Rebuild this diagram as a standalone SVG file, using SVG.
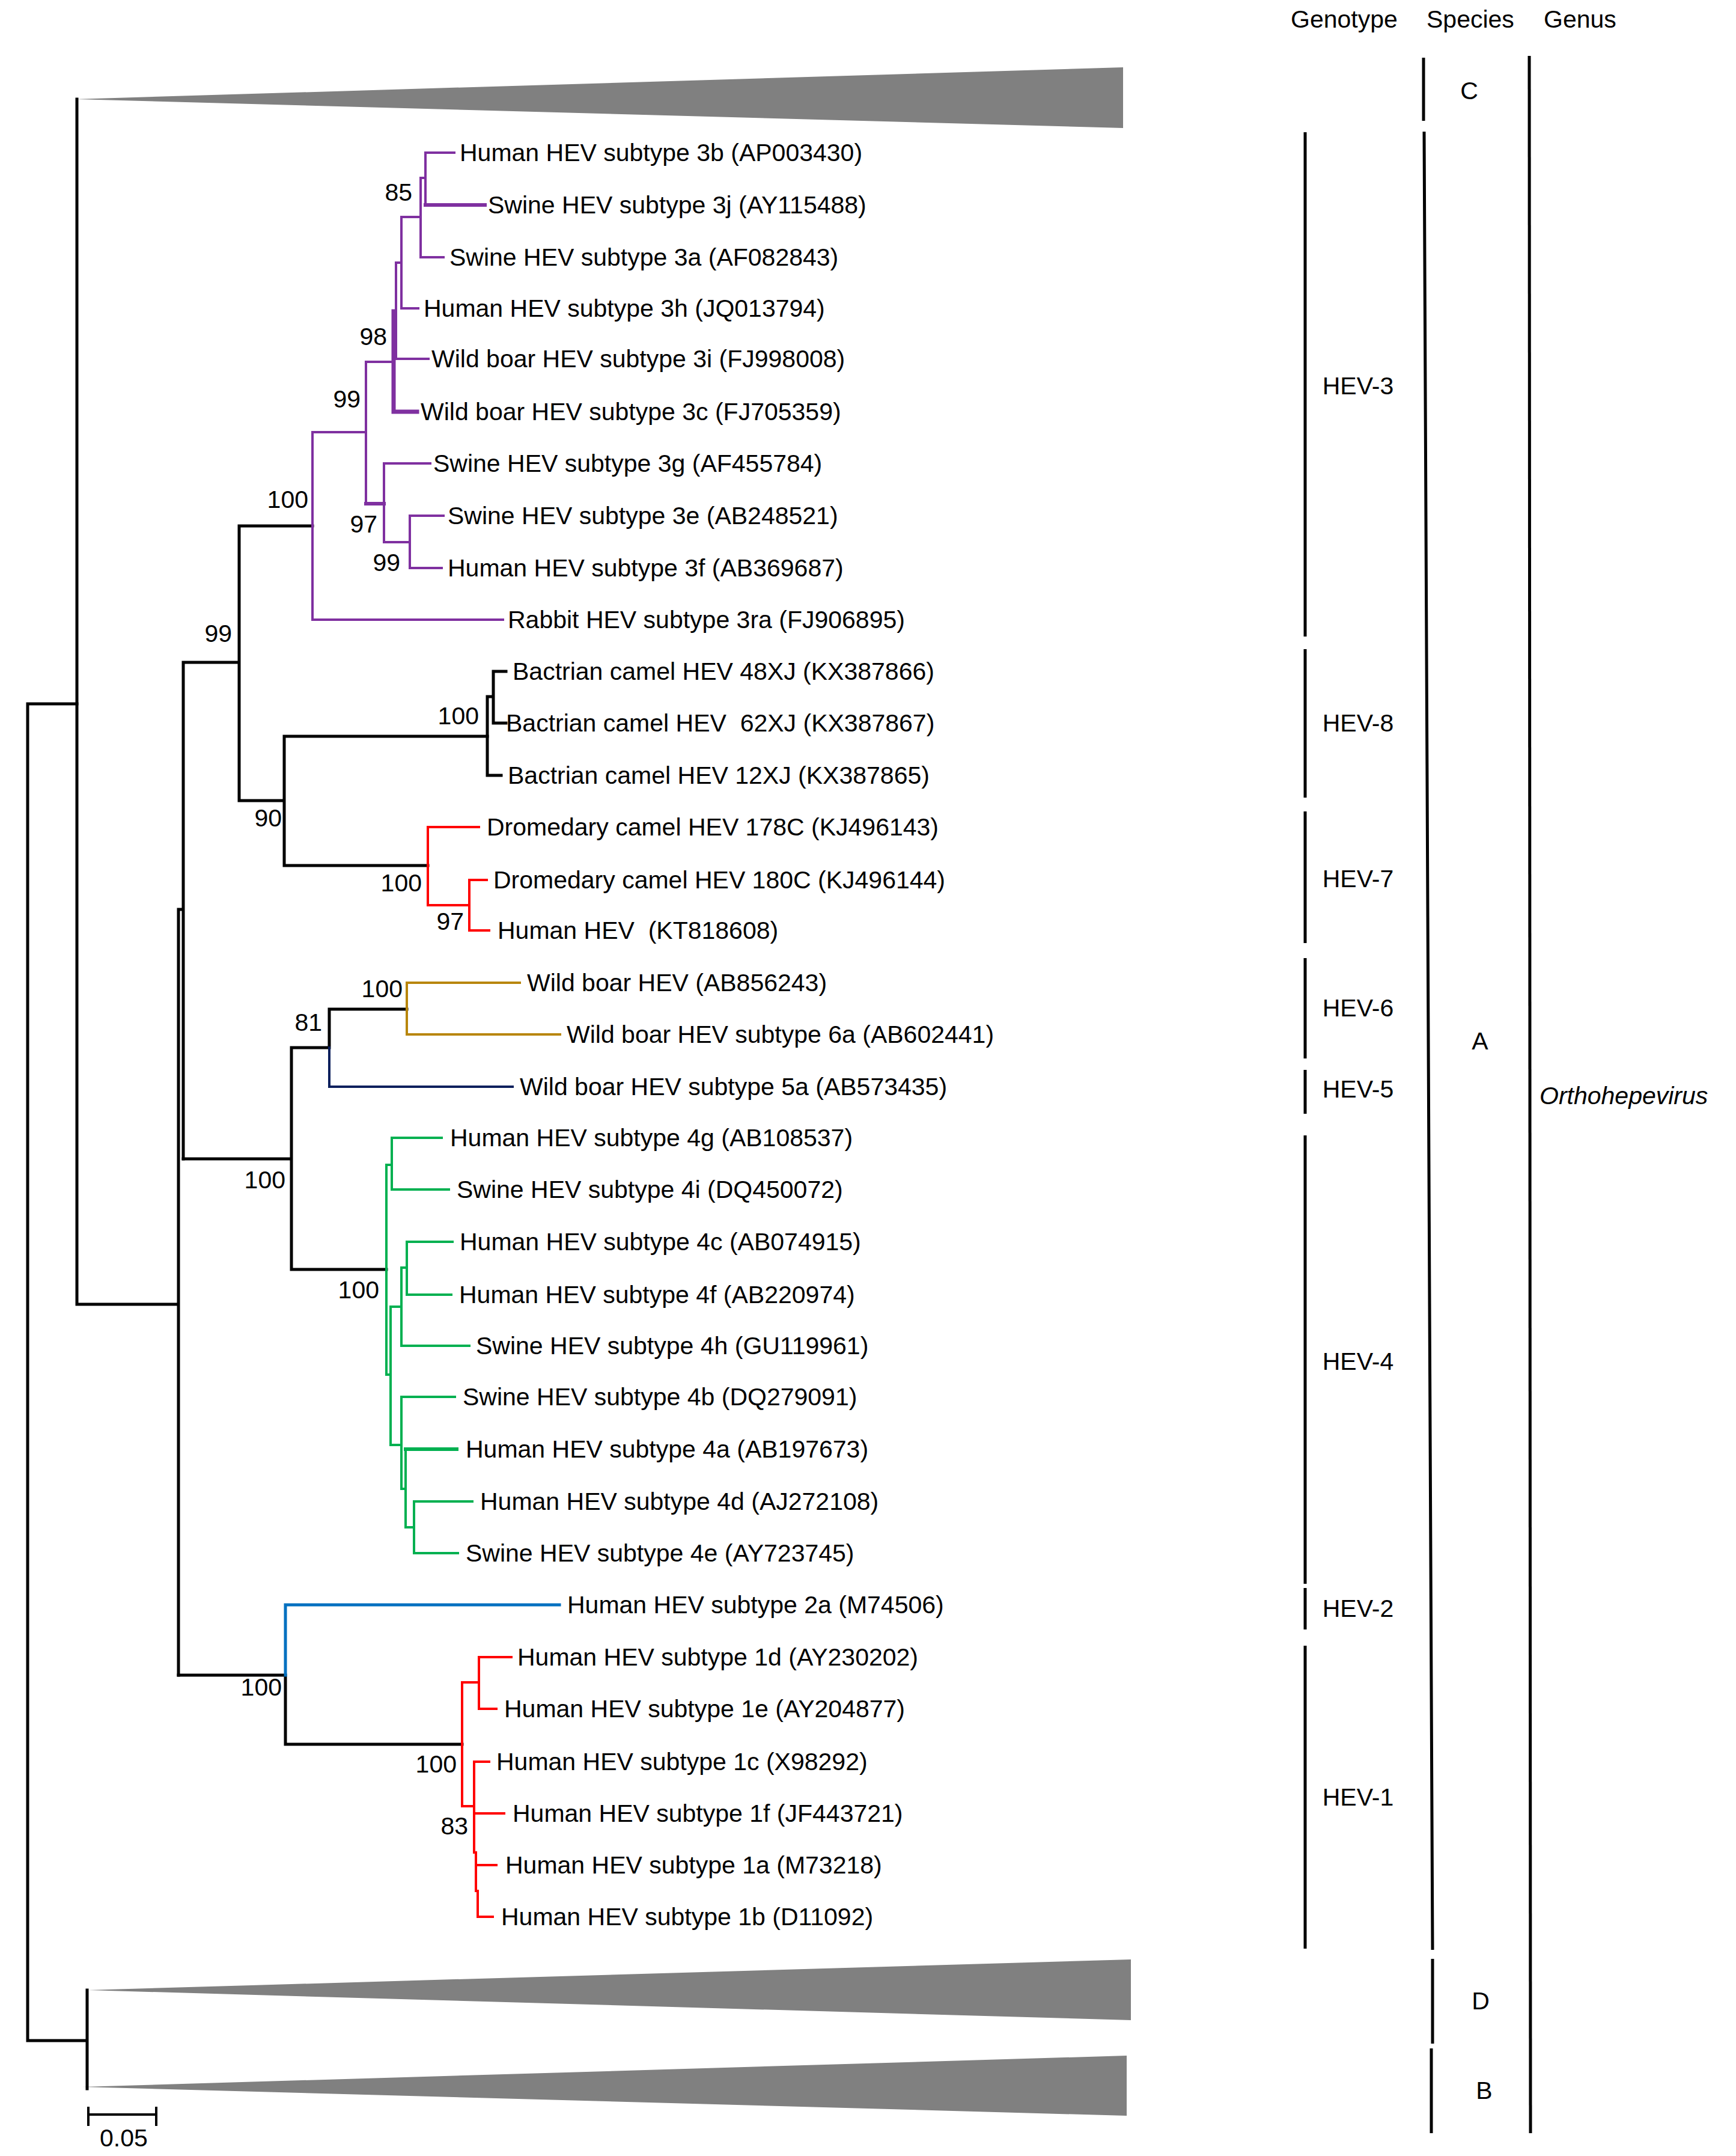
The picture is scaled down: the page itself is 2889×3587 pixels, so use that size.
<svg xmlns="http://www.w3.org/2000/svg" width="2889" height="3587" viewBox="0 0 2889 3587">
<style>
text{font-family:"Liberation Sans",Arial,sans-serif;font-size:41px;fill:#000;white-space:pre}
.bs{text-anchor:end}
.mid{text-anchor:middle}
.k{stroke:#000;stroke-width:5;fill:none;stroke-linecap:square}
.p{stroke:#7f30a0;stroke-width:4;fill:none;stroke-linecap:square}
.r{stroke:#ff0000;stroke-width:4;fill:none;stroke-linecap:square}
.g{stroke:#00b050;stroke-width:4;fill:none;stroke-linecap:square}
.o{stroke:#b8860b;stroke-width:4;fill:none;stroke-linecap:square}
.n{stroke:#0a1f5c;stroke-width:4;fill:none;stroke-linecap:square}
.b{stroke:#0070c0;stroke-width:5;fill:none;stroke-linecap:square}
.bar{stroke:#000;stroke-width:5;fill:none}
.tri{fill:#808080}
</style>
<rect width="2889" height="3587" fill="#fff"/>

<g id="collapsed">
<polygon class="tri" points="126,165 1869,112 1869,213"/>
<polygon class="tri" points="147,3311 1882,3260 1882,3361"/>
<polygon class="tri" points="137,3472 1875,3420 1875,3520"/>
</g>

<g id="connectors">
<!-- backbone -->
<path class="k" d="M46,1171 V3395 M46,1171 H128 M46,3395 H145 M145,3311 V3475"/>
<path class="k" d="M128,165 V2170 H297 M297,1513 V2787 M297,1513 H305 M305,1102 V1928 M305,1102 H398 M398,875 V1332 M398,875 H520 M398,1332 H473 M473,1225 V1440 M473,1225 H811 M473,1440 H712"/>
<path class="k" d="M305,1928 H485 M485,1743 V2112 M485,1743 H548 M485,2112 H643 M548,1679 V1743 M548,1679 H677"/>
<path class="k" d="M297,2787 H475 M475,2787 V2902 H769"/>
<!-- HEV-8 -->
<path class="k" d="M811,1159 V1290 H834 M811,1159 H821 M821,1117 V1203 M821,1117 H842 M821,1203 H842"/>
<!-- HEV-3 -->
<path class="p" d="M520,875 V719 M520,875 V1031 H837 M520,719 H609 M609,602 V838 M609,602 H655"/>
<path class="p" d="M655,518 V685 H694" style="stroke-width:7"/>
<path class="p" d="M655,518 H659 M659,437 V597 H713 M659,437 H668 M668,361 V513 H696 M668,361 H700 M700,296 V428 H738 M700,296 H708 M708,254 V341 M708,254 H756"/>
<path class="p" d="M708,341 H807" style="stroke-width:6"/>
<path class="p" d="M609,838 H639" style="stroke-width:6"/>
<path class="p" d="M639,771 V902 M639,771 H716 M639,902 H682 M682,858 V945 M682,858 H738 M682,945 H735"/>
<!-- HEV-7 -->
<path class="r" d="M712,1376 V1506 M712,1376 H797 M712,1506 H781 M781,1464 V1548 M781,1464 H810 M781,1548 H814"/>
<!-- HEV-6 / HEV-5 -->
<path class="o" d="M677,1635 V1721 M677,1635 H865 M677,1721 H932"/>
<path class="n" d="M548,1743 V1808 H853"/>
<!-- HEV-4 -->
<path class="g" d="M643,1938 V2287 M643,1938 H652 M652,1893 V1979 M652,1893 H735 M652,1979 H747"/>
<path class="g" d="M643,2287 H650 M650,2174 V2404 M650,2174 H668 M668,2109 V2239 H781 M668,2109 H677 M677,2066 V2154 M677,2066 H753 M677,2154 H751"/>
<path class="g" d="M650,2404 H668 M668,2324 V2477 M668,2324 H757 M668,2477 H675 M675,2411 V2541 M675,2541 H689 M689,2498 V2584 M689,2498 H786 M689,2584 H762"/>
<path class="g" d="M675,2411 H760" style="stroke-width:6"/>
<!-- HEV-2 -->
<path class="b" d="M475,2787 V2670 H931"/>
<!-- HEV-1 -->
<path class="r" d="M769,2799 V3005 M769,2799 H797 M797,2757 V2843 M797,2757 H851 M797,2843 H826"/>
<path class="r" d="M769,3005 H789 M789,2931 V3082 M789,2931 H814 M789,3017 H839 M789,3082 H792 M792,3082 V3146 M792,3103 H826 M792,3146 H795 M795,3146 V3189 H820"/>
<!-- scale bar -->
<path class="k" d="M147,3518 H260 M147,3505 V3537 M260,3505 V3537" style="stroke-width:4;stroke-linecap:butt"/>
</g>

<g id="leaves">
<text x="765" y="268">Human HEV subtype 3b (AP003430)</text>
<text x="812" y="355">Swine HEV subtype 3j (AY115488)</text>
<text x="748" y="442">Swine HEV subtype 3a (AF082843)</text>
<text x="705" y="527">Human HEV subtype 3h (JQ013794)</text>
<text x="718" y="611">Wild boar HEV subtype 3i (FJ998008)</text>
<text x="700" y="699">Wild boar HEV subtype 3c (FJ705359)</text>
<text x="721" y="785">Swine HEV subtype 3g (AF455784)</text>
<text x="745" y="872">Swine HEV subtype 3e (AB248521)</text>
<text x="745" y="959">Human HEV subtype 3f (AB369687)</text>
<text x="845" y="1045">Rabbit HEV subtype 3ra (FJ906895)</text>
<text x="853" y="1131">Bactrian camel HEV 48XJ (KX387866)</text>
<text x="842" y="1217">Bactrian camel HEV  62XJ (KX387867)</text>
<text x="845" y="1304">Bactrian camel HEV 12XJ (KX387865)</text>
<text x="810" y="1390">Dromedary camel HEV 178C (KJ496143)</text>
<text x="821" y="1478">Dromedary camel HEV 180C (KJ496144)</text>
<text x="828" y="1562">Human HEV  (KT818608)</text>
<text x="877" y="1649">Wild boar HEV (AB856243)</text>
<text x="943" y="1735">Wild boar HEV subtype 6a (AB602441)</text>
<text x="865" y="1822">Wild boar HEV subtype 5a (AB573435)</text>
<text x="749" y="1907">Human HEV subtype 4g (AB108537)</text>
<text x="760" y="1993">Swine HEV subtype 4i (DQ450072)</text>
<text x="765" y="2080">Human HEV subtype 4c (AB074915)</text>
<text x="764" y="2168">Human HEV subtype 4f (AB220974)</text>
<text x="792" y="2253">Swine HEV subtype 4h (GU119961)</text>
<text x="770" y="2338">Swine HEV subtype 4b (DQ279091)</text>
<text x="775" y="2425">Human HEV subtype 4a (AB197673)</text>
<text x="799" y="2512">Human HEV subtype 4d (AJ272108)</text>
<text x="775" y="2598">Swine HEV subtype 4e (AY723745)</text>
<text x="944" y="2684">Human HEV subtype 2a (M74506)</text>
<text x="861" y="2771">Human HEV subtype 1d (AY230202)</text>
<text x="839" y="2857">Human HEV subtype 1e (AY204877)</text>
<text x="826" y="2945">Human HEV subtype 1c (X98292)</text>
<text x="853" y="3031">Human HEV subtype 1f (JF443721)</text>
<text x="841" y="3117">Human HEV subtype 1a (M73218)</text>
<text x="834" y="3203">Human HEV subtype 1b (D11092)</text>
</g>

<g id="bootstrap">
<text class="bs" x="686" y="334">85</text>
<text class="bs" x="644" y="574">98</text>
<text class="bs" x="600" y="678">99</text>
<text class="bs" x="513" y="845">100</text>
<text class="bs" x="628" y="886">97</text>
<text class="bs" x="666" y="950">99</text>
<text class="bs" x="386" y="1068">99</text>
<text class="bs" x="797" y="1205">100</text>
<text class="bs" x="469" y="1375">90</text>
<text class="bs" x="702" y="1483">100</text>
<text class="bs" x="772" y="1547">97</text>
<text class="bs" x="670" y="1659">100</text>
<text class="bs" x="536" y="1715">81</text>
<text class="bs" x="475" y="1977">100</text>
<text class="bs" x="631" y="2160">100</text>
<text class="bs" x="469" y="2821">100</text>
<text class="bs" x="760" y="2949">100</text>
<text class="bs" x="779" y="3052">83</text>
</g>

<g id="scale">
<text x="166" y="3571">0.05</text>
</g>

<g id="headers">
<text x="2148" y="46">Genotype</text>
<text x="2374" y="46">Species</text>
<text x="2569" y="46">Genus</text>
</g>

<g id="genotype">
<path class="bar" d="M2172,220 V1059 M2172,1080 V1327 M2172,1350 V1569 M2172,1594 V1761 M2172,1780 V1853 M2172,1889 V2635 M2172,2642 V2711 M2172,2738 V3242"/>
<text class="mid" x="2260" y="656">HEV-3</text>
<text class="mid" x="2260" y="1217">HEV-8</text>
<text class="mid" x="2260" y="1476">HEV-7</text>
<text class="mid" x="2260" y="1691">HEV-6</text>
<text class="mid" x="2260" y="1826">HEV-5</text>
<text class="mid" x="2260" y="2279">HEV-4</text>
<text class="mid" x="2260" y="2690">HEV-2</text>
<text class="mid" x="2260" y="3004">HEV-1</text>
</g>

<g id="species">
<path class="bar" d="M2369,96 V201 M2370,219 L2384,3244 M2384,3259 V3400 M2382,3408 V3549"/>
<text class="mid" x="2445" y="165">C</text>
<text class="mid" x="2463" y="1746">A</text>
<text class="mid" x="2464" y="3343">D</text>
<text class="mid" x="2470" y="3492">B</text>
</g>

<g id="genus">
<path class="bar" d="M2545,93 L2547,3549"/>
<text x="2562" y="1837" style="font-style:italic">Orthohepevirus</text>
</g>
</svg>
